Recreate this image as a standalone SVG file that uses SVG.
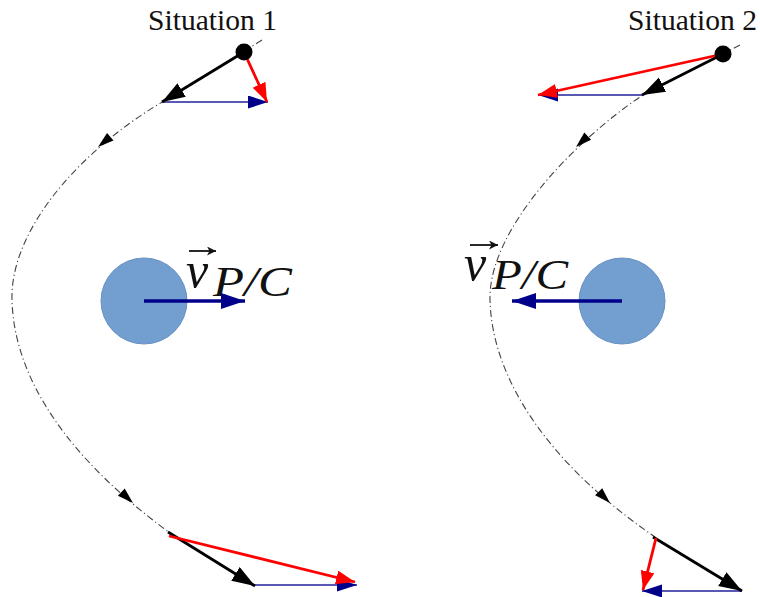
<svg xmlns="http://www.w3.org/2000/svg" width="760" height="597" viewBox="0 0 760 597">
<style>
.title{font-family:'Liberation Serif',serif;font-size:29px;fill:#111}
.mv{font-family:'Liberation Serif',serif;font-style:italic;fill:#111}
.traj{fill:none;stroke:#444;stroke-width:1.1;stroke-dasharray:7 3 1.2 3}
.planet{fill:#729fcf;stroke:#6690c2;stroke-width:1}
.blk{stroke:#000;stroke-width:2.8;fill:none;marker-end:url(#hb)}
.red{stroke:#f00;stroke-width:2.8;fill:none;marker-end:url(#hr)}
.blu{stroke:#22229a;stroke-width:1.3;fill:none;marker-end:url(#hn)}
.vel{stroke:#00008b;stroke-width:3.5;fill:none;marker-end:url(#hv)}
.acc{stroke:#111;stroke-width:1.8;fill:none;marker-end:url(#ha)}
</style>
<defs>
<marker id="hb" markerUnits="userSpaceOnUse" markerWidth="25" markerHeight="18" refX="23" refY="8" orient="auto"><path d="M0,0 L23,8 L0,16 z" fill="#000"/></marker>
<marker id="hr" markerUnits="userSpaceOnUse" markerWidth="22" markerHeight="16" refX="19" refY="7" orient="auto"><path d="M0,0 L19,7 L0,14 z" fill="#f00"/></marker>
<marker id="hn" markerUnits="userSpaceOnUse" markerWidth="22" markerHeight="15" refX="20" refY="6.5" orient="auto"><path d="M0,0 L20,6.5 L0,13 z" fill="#00008b"/></marker>
<marker id="hv" markerUnits="userSpaceOnUse" markerWidth="26" markerHeight="18" refX="24" refY="8" orient="auto"><path d="M0,0 L24,8 L0,16 z" fill="#00008b"/></marker>
<marker id="ha" markerUnits="userSpaceOnUse" markerWidth="11" markerHeight="11" refX="9" refY="4.5" orient="auto"><path d="M0,0 L9,4.5 L0,9 L2.5,4.5 z" fill="#111"/></marker>
<path id="ch" d="M0,-5 L16,0 L0,5 z" fill="#000"/>
</defs>

<g id="situation1">
<text class="title" x="148" y="30" textLength="129" lengthAdjust="spacingAndGlyphs">Situation 1</text>
</g>
<g id="situation2">
<text class="title" x="628" y="30" textLength="129" lengthAdjust="spacingAndGlyphs">Situation 2</text>
</g>

<g id="trajectory1">
<path class="traj" d="M262,40 L164,101 C80,150 10,230 12,300 C14,380 70,460 170,533"/>
<use href="#ch" transform="translate(98,147) rotate(140) translate(-16,0)"/>
<use href="#ch" transform="translate(133,503) rotate(43) translate(-16,0)"/>
</g>
<g id="trajectory2">
<path class="traj" d="M740,45 L643,95 C575,140 488,230 490,300 C492,380 550,465 655,537"/>
<use href="#ch" transform="translate(576,147) rotate(137) translate(-16,0)"/>
<use href="#ch" transform="translate(610,503) rotate(45) translate(-16,0)"/>
</g>

<g id="planet1">
<circle class="planet" cx="144" cy="301" r="43"/>
</g>
<g id="planet2">
<circle class="planet" cx="622" cy="301" r="43"/>
</g>

<g id="label1">
<text class="mv" x="186" y="287" font-size="50">v</text>
<text class="mv" x="213" y="296" font-size="42" textLength="79" lengthAdjust="spacingAndGlyphs">P/C</text>
<path class="acc" d="M189,251 L216,251"/>
</g>
<g id="label2">
<text class="mv" x="464" y="280" font-size="50">v</text>
<text class="mv" x="492" y="289" font-size="42" textLength="76" lengthAdjust="spacingAndGlyphs">P/C</text>
<path class="acc" d="M470,245 L498,245"/>
</g>

<g id="connectors">
<path class="vel" d="M144,301 L245,301"/>
<path class="vel" d="M622,301 L512,301"/>

<path class="blu" d="M163,102 L268,102"/>
<path class="blk" d="M244,52 L162,102"/>
<path class="red" d="M244,52 L267,102"/>

<path class="blu" d="M255,585 L357,585"/>
<path class="blk" d="M168,532 L255,586"/>
<path class="red" d="M169,536 L355,582"/>

<path class="blu" d="M642,95 L538,95"/>
<path class="blk" d="M723,54 L642,95"/>
<path class="red" d="M723,54 L538,95"/>

<path class="blu" d="M742,591 L642,591"/>
<path class="blk" d="M653,537 L742,591"/>
<path class="red" d="M656,538 L643,590"/>
</g>

<g id="body1"><circle cx="244" cy="52" r="8.5" fill="#000"/></g>
<g id="body2"><circle cx="723" cy="54" r="8.5" fill="#000"/></g>
</svg>
